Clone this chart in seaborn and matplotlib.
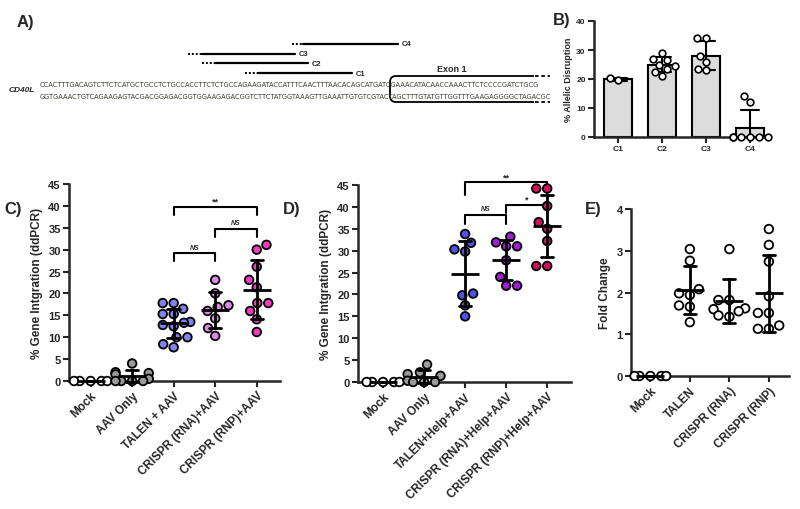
import numpy as np
import pandas as pd
import seaborn as sns
import matplotlib.pyplot as plt
from matplotlib.path import Path
from matplotlib.patches import PathPatch

# ---------------- data ----------------
seq_top = ("CCACTTTGACAGTCTTCTCATGCTGCCTCTGCCACCTTCTCTGCCAGAAGATACCATTTCAACTTTAACACAGC"
           "ATGATCGAAACATACAACCAAACTTCTCCCCGATCTGCG")
seq_bot = ("GGTGAAACTGTCAGAAGAGTACGACGGAGACGGTGGAAGAGACGGTCTTCTATGGTAAAGTTGAAATTGTGTCG"
           "TACTAGCTTTGTATGTTGGTTTGAAGAGGGGCTAGACGC")

guides = ["C1", "C2", "C3", "C4"]
disrupt_c1 = [19.5, 20.2]
disrupt_c2 = [29.0, 27.0, 26.5, 25.0, 24.5, 23.5, 22.5, 21.0]
disrupt_c3 = [34.0, 34.0, 28.0, 26.0, 23.5, 23.0]
disrupt_c4 = [14.0, 12.0, 0.0, 0.0, 0.0, 0.0, 0.0, 0.0]

groups_c = ["Mock", "AAV Only", "TALEN + AAV", "CRISPR (RNA)+AAV", "CRISPR (RNP)+AAV"]
mock_c = [0.0, 0.0, 0.0, 0.0, 0.0]
aav_c = [4.0, 2.0, 1.8, 1.5, 0.5, 0.0, 0.0, 0.0, 0.0]
talen_c = [17.8, 17.8, 16.5, 15.3, 15.3, 13.5, 13.3, 12.8, 12.5, 10.0, 10.0, 8.4, 7.7]
rna_c = [23.1, 20.0, 17.3, 16.9, 16.0, 14.3, 12.1, 10.3]
rnp_c = [31.1, 30.0, 26.1, 23.1, 21.4, 17.8, 17.8, 16.0, 14.1, 11.2]
colors_c = ["white", "#9a9a9a", "#8282ee", "#e088e8", "#f23cc0"]

groups_d = ["Mock", "AAV Only", "TALEN+Help+AAV", "CRISPR (RNA)+Help+AAV", "CRISPR (RNP)+Help+AAV"]
mock_d = [0.0, 0.0, 0.0, 0.0, 0.0]
aav_d = [4.0, 2.2, 1.8, 1.4, 0.3, 0.0, 0.0, 0.0]
talen_d = [33.8, 31.8, 30.3, 29.8, 20.2, 19.8, 17.5, 15.0]
rna_d = [33.2, 31.9, 31.0, 31.0, 27.8, 24.0, 22.0, 22.0]
rnp_d = [44.2, 44.2, 40.2, 36.5, 35.0, 32.2, 26.5, 26.5]
colors_d = ["white", "#9a9a9a", "#5252e6", "#a21ed6", "#d4105c"]

groups_e = ["Mock", "TALEN", "CRISPR (RNA)", "CRISPR (RNP)"]
mock_e = [0.0, 0.0, 0.0, 0.0, 0.0]
talen_e = [3.04, 2.76, 2.08, 1.98, 1.94, 1.69, 1.66, 1.29]
rna_e = [3.04, 1.82, 1.82, 1.62, 1.60, 1.55, 1.45, 1.42]
rnp_e = [3.52, 3.14, 2.74, 1.91, 1.51, 1.51, 1.21, 1.13, 1.13]
colors_e = ["white", "white", "white", "white"]

# brackets: (from, to, top, leg bottom, label)
brackets_c = [(2, 4, 39.8, 37.9, "**"), (3, 4, 34.7, 32.9, "NS"), (2, 3, 29.2, 27.4, "NS")]
brackets_d = [(2, 4, 45.6, 42.8, "**"), (3, 4, 40.4, 38.7, "*"), (2, 3, 38.2, 36.2, "NS")]

# ---------------- style ----------------
sns.set_theme(style="ticks")
plt.rcParams['font.family'] = ['Liberation Sans', 'DejaVu Sans']
plt.rcParams['font.weight'] = 'bold'
plt.rcParams['axes.labelweight'] = 'bold'
plt.rcParams['axes.linewidth'] = 1.7

fig = plt.figure(figsize=(8, 5.1), dpi=100)

# overlay in pixel coordinates for panel A and panel letters
ov = fig.add_axes([0, 0, 1, 1])
ov.set_xlim(0, 800)
ov.set_ylim(510, 0)
ov.axis('off')

for lab, x, y in [("A)", 17, 23), ("B)", 553, 20), ("C)", 4, 210), ("D)", 283, 210), ("E)", 585, 210)]:
    ov.text(x, y, lab, fontsize=12, fontweight='bold', va='center', ha='left')

seq_font = ['DejaVu Sans', 'Liberation Sans']
t1 = ov.text(40, 85, seq_top, fontsize=6, family=seq_font, fontweight='normal', fontstretch='condensed',
             va='center', ha='left', color='#3c3c32')
t2 = ov.text(40, 97, seq_bot, fontsize=6, family=seq_font, fontweight='normal', fontstretch='condensed',
             va='center', ha='left', color='#3c3c32')
fig.canvas.draw()
w = t1.get_window_extent(fig.canvas.get_renderer()).width
t1.set_fontsize(6 * 493 / w)
t2.set_fontsize(6 * 493 / w)
ov.text(35, 91, "CD40L", fontsize=6, fontstyle='italic', fontweight='bold', ha='right', va='center')

guide_rows = [("C4", 292, 303, 398, 45), ("C3", 188, 202, 295, 55),
              ("C2", 202, 215, 308, 64), ("C1", 245, 258, 352, 74)]
for name, xd, xs, xe, y in guide_rows:
    ov.plot([xd, xs], [y, y], color='black', lw=1.4, ls=(0, (1, 1)))
    ov.plot([xs, xe], [y, y], color='black', lw=1.6)
    ov.text(xe + 4, y, name, fontsize=5.5, va='center', ha='left')

verts = [(534, 77), (396, 77), (390, 77), (390, 83), (390, 97), (390, 103), (396, 103), (534, 103)]
codes = [Path.MOVETO, Path.LINETO, Path.CURVE3, Path.CURVE3, Path.LINETO,
         Path.CURVE3, Path.CURVE3, Path.LINETO]
ov.add_patch(PathPatch(Path(verts, codes), fill=False, lw=1.3, ec='black'))
for yy in (77, 103):
    ov.plot([535, 550], [yy, yy], color='black', lw=1.3, ls=(0, (2, 1.5)))
ov.text(452, 70, "Exon 1", fontsize=6.5, ha='center', va='center')


def style_axis(ax):
    sns.despine(ax=ax)
    for s in ('left', 'bottom'):
        ax.spines[s].set_linewidth(1.8)
    ax.tick_params(axis='both', direction='out', length=4, width=1.5, labelsize=8, pad=2)


# ---------------- panel B ----------------
axB = fig.add_axes([594 / 800, 1 - 138 / 510, 176 / 800, 116 / 510])
dfB = pd.DataFrame({
    'guide': np.repeat(guides, [len(disrupt_c1), len(disrupt_c2), len(disrupt_c3), len(disrupt_c4)]),
    'pct': np.concatenate([disrupt_c1, disrupt_c2, disrupt_c3, disrupt_c4]),
})
sns.barplot(data=dfB, x='guide', y='pct', order=guides, errorbar='sd', capsize=0.4, width=0.63,
            color='#dcdcdc', saturation=1, edgecolor='black', linewidth=1.5,
            err_kws={'color': 'black', 'linewidth': 1.5}, ax=axB)
sns.swarmplot(data=dfB, x='guide', y='pct', order=guides, color='white', edgecolor='black',
              linewidth=1.2, size=4.8, ax=axB, zorder=4, warn_thresh=1)
axB.set_ylim(0, 40)
axB.set_yticks([0, 10, 20, 30, 40])
axB.set_xlim(-0.55, 3.45)
axB.set_xlabel("")
axB.set_ylabel("% Allelic Disruption", fontsize=6.5, labelpad=2)
style_axis(axB)
axB.tick_params(labelsize=6)
for c in axB.collections:
    c.set_clip_on(False)


# ---------------- scatter panels ----------------
def scatter_panel(rect, names, values, colors, ymax, ystep, xlim, ylabel, brackets=None):
    ax = fig.add_axes(rect)
    df = pd.DataFrame({'group': np.repeat(names, [len(v) for v in values]),
                       'val': np.concatenate(values)})
    sns.swarmplot(data=df, x='group', y='val', order=names, hue='group',
                  palette=dict(zip(names, colors)), edgecolor='black', linewidth=1.3,
                  size=6.2, legend=False, ax=ax, zorder=3, warn_thresh=1)
    sns.pointplot(data=df, x='group', y='val', order=names, errorbar='sd', capsize=0.3,
                  color='black', linestyle='none', marker='_', markersize=20,
                  markeredgewidth=2, err_kws={'linewidth': 2, 'zorder': 4}, ax=ax, zorder=4)
    for c in ax.collections:
        c.set_clip_on(False)
    for ln in ax.lines:
        ln.set_clip_on(False)
    ax.set_ylim(0, ymax)
    ax.set_yticks(np.arange(0, ymax + ystep / 2, ystep))
    ax.set_xlim(*xlim)
    ax.set_xticks(range(len(names)), labels=names)
    for lbl in ax.get_xticklabels():
        lbl.set_rotation(45)
        lbl.set_ha('right')
        lbl.set_rotation_mode('anchor')
    ax.set_xlabel("")
    ax.set_ylabel(ylabel, fontsize=8.5, labelpad=4)
    style_axis(ax)
    ax.tick_params(axis='x', labelsize=8.5)
    if brackets:
        for x1, x2, top, bot, lab in brackets:
            ax.plot([x1, x1, x2, x2], [bot, top, top, bot], color='black', lw=1.5, clip_on=False)
            if lab == "NS":
                ax.text((x1 + x2) / 2, top + 0.6, lab, ha='center', va='bottom', fontsize=5,
                        fontstyle='italic')
            else:
                ax.text((x1 + x2) / 2, top + 0.3, lab, ha='center', va='bottom', fontsize=6.5)
    return ax


scatter_panel([69 / 800, 1 - 382 / 510, 211 / 800, 197 / 510], groups_c,
              [mock_c, aav_c, talen_c, rna_c, rnp_c], colors_c, 45, 5, (-0.52, 4.56),
              "% Gene Intgration (ddPCR)", brackets_c)
scatter_panel([358 / 800, 1 - 383 / 510, 213 / 800, 197 / 510], groups_d,
              [mock_d, aav_d, talen_d, rna_d, rnp_d], colors_d, 45, 5, (-0.61, 4.58),
              "% Gene Intgration (ddPCR)", brackets_d)
scatter_panel([631 / 800, 1 - 377 / 510, 158 / 800, 167 / 510], groups_e,
              [mock_e, talen_e, rna_e, rnp_e], colors_e, 4, 1, (-0.49, 3.51),
              "Fold Change")

fig.savefig("out.png", dpi=100)
